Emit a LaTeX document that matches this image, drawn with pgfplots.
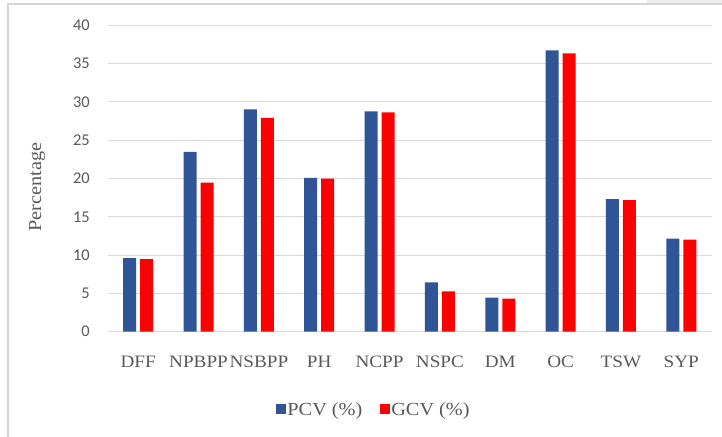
\documentclass[border=0pt]{standalone}
\usepackage{fontspec}
\setmainfont{Liberation Serif}[FakeStretch=1.1]
\newfontfamily\tickfont{Carlito}
\usepackage{pgfplots}
\pgfplotsset{compat=1.18}
\definecolor{pcv}{HTML}{2F5597}
\definecolor{gcv}{HTML}{FF0000}
\definecolor{txt}{HTML}{595959}
\definecolor{gridc}{HTML}{D9D9D9}
\definecolor{framec}{HTML}{D4D4D4}
\begin{document}
\begin{tikzpicture}
\begin{axis}[
  at={(108bp,105.3bp)}, anchor=south west,
  scale only axis, width=603.5bp, height=306.4bp,
  ybar=4bp, bar width=13bp,
  xmin=-0.5, xmax=9.5, ymin=0, ymax=40,
  xtick={0,...,9},
  xticklabels={DFF,NPBPP,NSBPP,PH,NCPP,NSPC,DM,OC,TSW,SYP},
  ytick={0,5,...,40},
  ymajorgrids, grid style={draw=gridc, line width=1bp},
  axis lines*=left,
  x axis line style={draw=gridc, line width=1bp},
  y axis line style={draw=none},
  major tick length=0pt, tick style={draw=none},
  xticklabel style={font=\fontsize{17.5}{20}\selectfont, text=txt, anchor=base, inner sep=0pt, yshift=-36bp},
  yticklabel style={font=\tickfont\fontsize{16.5}{19}\selectfont, text=txt, anchor=east, inner sep=0pt, xshift=-18bp},
  /pgf/number format/assume math mode=true,
  legend columns=2,
  legend style={at={(axis description cs:0.44,-0.2555)}, anchor=center, draw=none, fill=none,
    font=\fontsize{18.5}{21}\selectfont, text=txt,
    /tikz/every even column/.append style={column sep=16bp},
    nodes={inner sep=1.5bp}},
  legend image code/.code={\fill[#1] (0bp,-4bp) rectangle (10bp,6bp);},
]
\addplot[fill=pcv, draw=none] coordinates {(0,9.62) (1,23.46) (2,29.03) (3,20.07) (4,28.77) (5,6.44) (6,4.44) (7,36.74) (8,17.32) (9,12.14)};
\addplot[fill=gcv, draw=none] coordinates {(0,9.49) (1,19.46) (2,27.90) (3,19.98) (4,28.64) (5,5.27) (6,4.31) (7,36.34) (8,17.19) (9,12.01)};
\legend{PCV (\%), GCV (\%)}
\end{axis}
\node[rotate=90, font=\fontsize{18.5}{21}\selectfont, text=txt] at (37bp,250bp) {Percentage};
\fill[black!7] (647bp,434bp) rectangle (722bp,437bp);
\draw[framec, line width=2bp] (8.4bp,0bp) -- (8.4bp,432.8bp) -- (722bp,432.8bp);
\pgfresetboundingbox
\path[use as bounding box] (0bp,0bp) rectangle (722bp,437bp);
\end{tikzpicture}
\end{document}
